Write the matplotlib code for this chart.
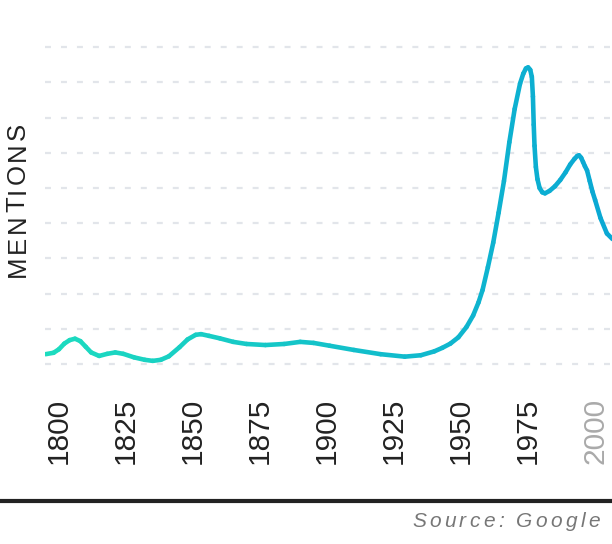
import numpy as np
import matplotlib
matplotlib.use("Agg")
import matplotlib.pyplot as plt
from matplotlib.collections import LineCollection
from matplotlib.colors import LinearSegmentedColormap, Normalize
from matplotlib.lines import Line2D
from matplotlib.font_manager import FontProperties

plt.rcParams['font.family'] = ['Liberation Sans', 'DejaVu Sans']
plt.rcParams['lines.scale_dashes'] = False

# values (in gridline units)
years = [1795, 1798, 1800, 1802, 1804, 1806, 1808, 1810, 1812, 1815,
         1818, 1821, 1824, 1828, 1832, 1835, 1838, 1841, 1845, 1848,
         1851, 1853, 1856, 1860, 1865, 1870, 1877, 1884, 1890, 1895,
         1901, 1910, 1920, 1929, 1935, 1940, 1943, 1946, 1949, 1952,
         1954.5, 1956.5, 1958, 1960, 1962, 1964, 1966, 1968, 1970, 1972,
         1973.2, 1974.2, 1975, 1975.8, 1976.4, 1976.8, 1977.1, 1977.4, 1977.9, 1978.5,
         1979.3, 1980.3, 1981.3, 1983, 1985, 1987, 1989, 1990.7, 1992.3, 1993.3,
         1994, 1994.8, 1995.5, 1996.2, 1997, 1998, 1999, 2000, 2002, 2004.4,
         2006.5]
mentions = [0.28, 0.32, 0.42, 0.58, 0.68, 0.72, 0.65, 0.49, 0.33, 0.23,
            0.29, 0.33, 0.29, 0.19, 0.12, 0.09, 0.12, 0.22, 0.48, 0.70,
            0.83, 0.85, 0.80, 0.73, 0.63, 0.57, 0.54, 0.57, 0.63, 0.60,
            0.52, 0.40, 0.28, 0.21, 0.25, 0.36, 0.46, 0.58, 0.76, 1.05,
            1.38, 1.75, 2.10, 2.75, 3.45, 4.30, 5.20, 6.30, 7.25, 7.97,
            8.25, 8.40, 8.43, 8.36, 8.16, 7.60, 6.80, 6.20, 5.60, 5.25,
            5.00, 4.88, 4.85, 4.92, 5.05, 5.23, 5.45, 5.67, 5.83, 5.91,
            5.93, 5.86, 5.74, 5.62, 5.50, 5.20, 4.90, 4.66, 4.15, 3.71,
            3.55]
tick_years = [1800, 1825, 1850, 1875, 1900, 1925, 1950, 1975, 2000]
tick_labels = [str(y) for y in tick_years]

fig = plt.figure(figsize=(6.12, 5.44), dpi=100)
ax = fig.add_axes([45 / 612, 1 - 374.6 / 544, 567 / 612, 344.9 / 544])
ax.set_xlim(1794.8, 2006.3)
ax.set_ylim(-0.3, 9.5)

# dashed horizontal grid
ax.hlines(range(10), 1794.8, 2006.3, colors='#e2e5ea', linewidth=1.6,
          linestyles=(0, (4.3, 7.2)), zorder=1)

# gradient line, green-teal on the left to blue on the right
pts = np.column_stack([years, mentions])
segs = np.stack([pts[:-1], pts[1:]], axis=1)
cmap = LinearSegmentedColormap.from_list('teal', ['#1ddcbf', '#0aa8d4'])
mid = (np.array(years[:-1]) + np.array(years[1:])) / 2
lc = LineCollection(segs, colors=cmap(Normalize(1795, 2006)(mid)),
                    linewidth=3.3, capstyle='round', joinstyle='round', zorder=3)
ax.add_collection(lc)

for s in ax.spines.values():
    s.set_visible(False)
ax.set_yticks([])
ax.set_xticks(tick_years)
ax.set_xticklabels(tick_labels, rotation=90, fontsize=21.5, color='#222222')
ax.tick_params(axis='x', length=0, pad=16.8)
ax.get_xticklabels()[-1].set_color('#aaaaaa')

# bottom rule
fig.add_artist(Line2D([0, 1], [1 - 500.5 / 544] * 2, color='#222222', linewidth=3))

renderer = fig.canvas.get_renderer()


def advance(ch, prop):
    w1 = renderer.get_text_width_height_descent("X" + ch + "X", prop, False)[0]
    w0 = renderer.get_text_width_height_descent("XX", prop, False)[0]
    return w1 - w0


def spaced_text(s, x, y, spacing, rotation=0, align='center', **kw):
    # x, y in pixels from the top-left corner
    prop = FontProperties(family=['Liberation Sans'], size=kw.pop('size'),
                          style=kw.pop('style', 'normal'))
    advs = [advance(ch, prop) for ch in s]
    total = sum(advs) + spacing * (len(s) - 1)
    pos = -total / 2 if align == 'center' else -total
    for ch, a in zip(s, advs):
        if rotation == 90:
            fig.text(x / 612, 1 - (y - pos) / 544, ch, rotation=90,
                     ha='center', va='bottom', fontproperties=prop, **kw)
        else:
            fig.text((x + pos) / 612, 1 - y / 544, ch, ha='left',
                     va='baseline', fontproperties=prop, **kw)
        pos += a + spacing


spaced_text("MENTIONS", 17.5, 200, 2.6, rotation=90, size=18.5, color='#222222')
spaced_text("Source: Google", 600, 527, 3.3, align='right', size=15,
            style='italic', color='#777777')

fig.savefig("out.png", dpi=100)
